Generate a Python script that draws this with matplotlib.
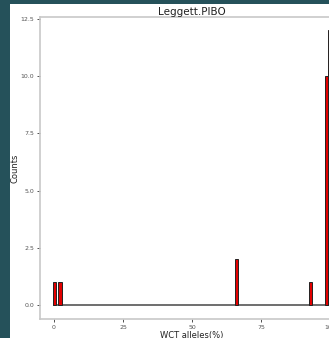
import matplotlib.pyplot as plt
from matplotlib.patches import Rectangle

# histogram bins that hold alleles (bin centre, count)
allele_pct = [0.2, 2.2, 66.0, 93.0, 98.8, 100.0]
counts = [1, 1, 2, 1, 10, 12]
bin_width = 1.2

x_ticks = [0, 25, 50, 75, 100]
y_ticks = [0.0, 2.5, 5.0, 7.5, 10.0, 12.5]

W, H = 329, 338
fig = plt.figure(figsize=(W / 100, H / 100), dpi=100, facecolor='#25515a')

# white slide panel behind the chart
fig.patches.append(Rectangle((10 / W, 0), 1, 1 - 4 / H, transform=fig.transFigure,
                             facecolor='white', edgecolor='none', zorder=-10))

ax = fig.add_axes([40 / W, 1 - 319 / H, (344 - 40) / W, (319 - 17) / H])
ax.set_zorder(1)
ax.set_facecolor('white')

# zero-count bins show up as a flat outline along the baseline
ax.hlines(0, allele_pct[0] - bin_width / 2, 105, color='#555555', lw=1.2, zorder=2)
ax.bar(allele_pct, counts, width=bin_width, color='#e20000', edgecolor='#222222',
       linewidth=0.7, zorder=3)

ax.set_xlim(-5.07, 105.07)
ax.set_ylim(-0.61, 12.59)
ax.set_xticks(x_ticks)
ax.set_yticks(y_ticks)
ax.set_xticklabels([str(t) for t in x_ticks])
ax.set_yticklabels([f'{t:.1f}' for t in y_ticks])
ax.tick_params(labelsize=4.5, labelcolor='#555555', color='#333333', length=2, width=0.6, pad=2)

for s in ax.spines.values():
    s.set_color('#c8c8c8')
    s.set_linewidth(1.2)

ax.set_title('Leggett.PIBO', fontsize=7.5, color='#222222', pad=1.5)
ax.set_xlabel('WCT alleles(%)', fontsize=6, color='#222222', labelpad=1)
ax.set_ylabel('Counts', fontsize=6, color='#222222')
ax.yaxis.set_label_coords(-0.068, 0.5)

fig.savefig('out.png', dpi=100, facecolor=fig.get_facecolor())
